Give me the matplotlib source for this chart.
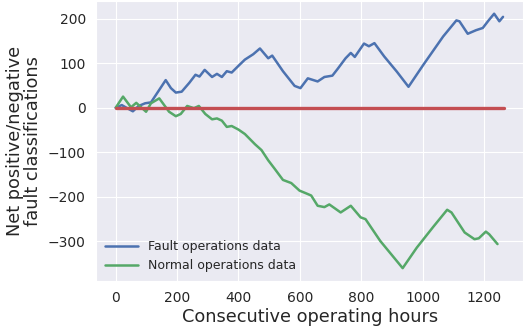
import numpy as np
import matplotlib
matplotlib.use("Agg")
import matplotlib.pyplot as plt
import seaborn as sns

# Waypoints (hours, net classifications)
fault_hours = [0, 20, 40, 56, 75, 96, 115, 140, 163, 180, 196, 215, 240, 260, 273, 290,
               314, 330, 346, 362, 378, 400, 421, 448, 470, 497, 510, 545, 583, 602,
               626, 658, 680, 706, 723, 749, 766, 779, 809, 825, 843, 875, 916, 954,
               1002, 1067, 1110, 1120, 1147, 1174, 1196, 1215, 1233, 1250, 1262]
fault_vals = [0, 6, -2, -8, 4, 10, 12, 38, 62, 44, 34, 36, 56, 74, 70, 85,
              69, 76, 69, 82, 79, 94, 108, 120, 133, 111, 117, 82, 49, 44,
              66, 59, 69, 72, 87, 111, 123, 114, 144, 138, 145, 115, 81, 47,
              96, 160, 196, 194, 166, 174, 179, 196, 211, 194, 204]

normal_hours = [0, 24, 50, 67, 99, 115, 142, 174, 196, 212, 233, 255, 271, 292, 314,
                330, 346, 362, 378, 400, 421, 454, 475, 497, 518, 545, 572, 599,
                620, 637, 658, 680, 696, 733, 766, 798, 814, 862, 935, 981, 1035,
                1080, 1094, 1137, 1169, 1183, 1206, 1217, 1244]
normal_vals = [0, 25, 1, 11, -9, 10, 21, -9, -19, -14, 4, -1, 4, -14, -26,
               -24, -29, -43, -41, -49, -59, -82, -95, -118, -137, -162, -169, -186,
               -192, -197, -220, -223, -217, -235, -220, -246, -250, -299, -360, -314, -267,
               -229, -235, -280, -295, -293, -278, -284, -306]

zero_hours = [0, 1265]
zero_vals = [0, 0]

sns.set_style("darkgrid")
plt.rcParams['font.family'] = ['DejaVu Sans']

fig = plt.figure(figsize=(5.26, 3.32), dpi=100)
ax = fig.add_axes([0.183, 0.154, 0.812, 0.843])

ax.plot(fault_hours, fault_vals, color="#4C72B0", lw=1.8, label="Fault operations data")
ax.plot(normal_hours, normal_vals, color="#55A868", lw=1.8, label="Normal operations data")
ax.plot(zero_hours, zero_vals, color="#C44E52", lw=2.4)

ax.set_xticks([0, 200, 400, 600, 800, 1000, 1200])
ax.set_yticks([-300, -200, -100, 0, 100, 200])
ax.tick_params(labelsize=10, colors="#262626", pad=4)
ax.set_xlabel("Consecutive operating hours", fontsize=12.8, color="#262626", labelpad=2)
ax.set_ylabel("Net positive/negative\nfault classifications", fontsize=12.8,
              color="#262626", labelpad=4, linespacing=1.05)
ax.legend(loc="lower left", fontsize=9, frameon=False, handlelength=2.6,
          borderaxespad=0.3, labelspacing=0.45)

fig.savefig("out.png", dpi=100)
